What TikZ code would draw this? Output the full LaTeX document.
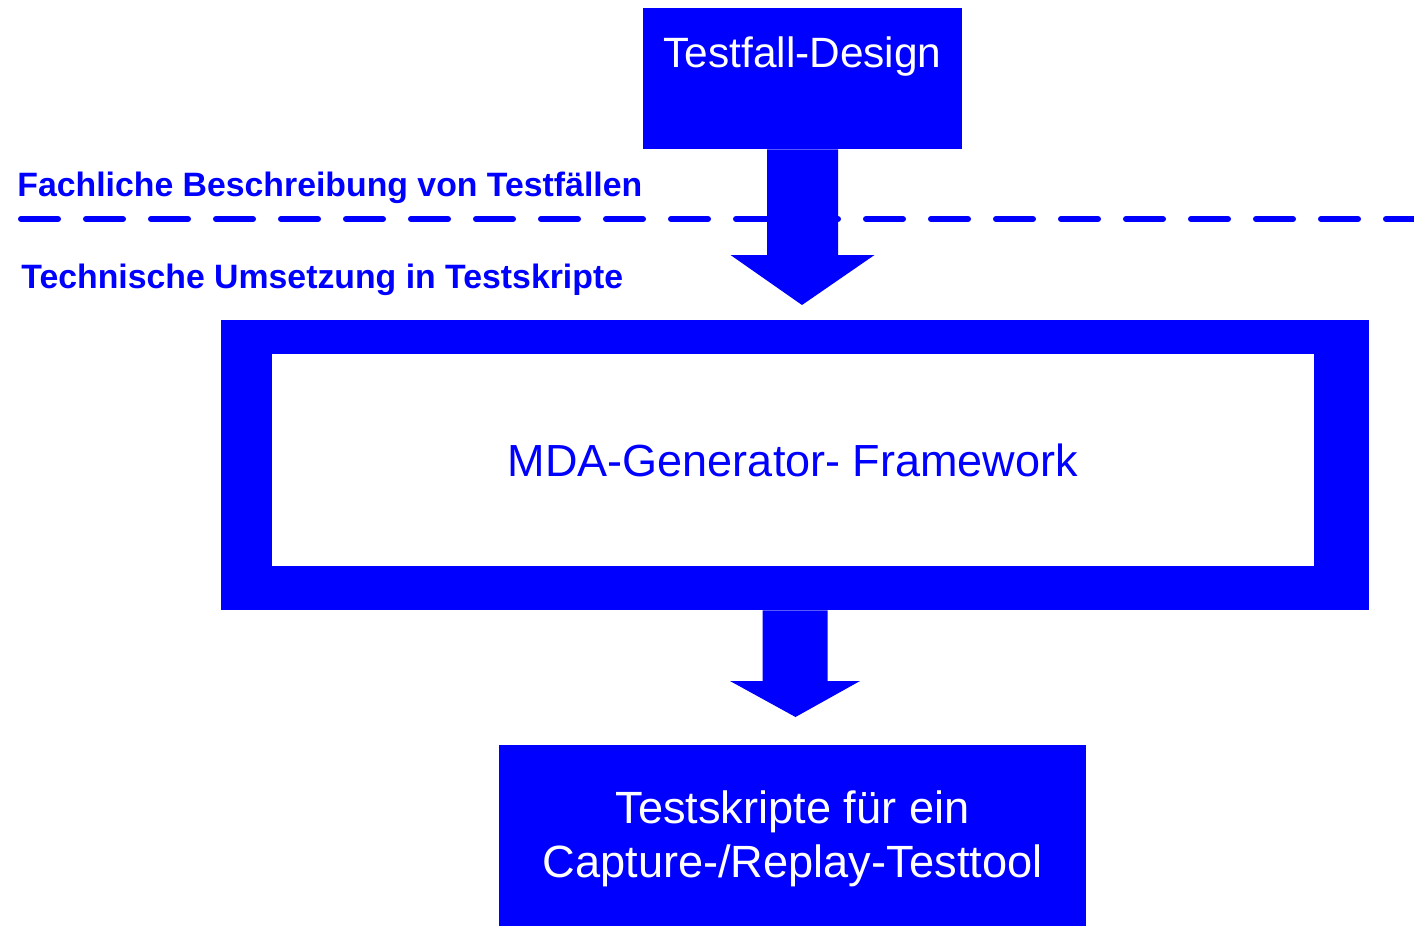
\documentclass[tikz,border=0pt]{standalone}
\usepackage{fontspec}
\setmainfont{Liberation Sans}
\usetikzlibrary{calc}
\definecolor{mdablue}{RGB}{0,0,255}
\tikzset{
    block/.style={fill=mdablue,text=white,inner sep=0pt,align=center,
        font=\fontsize{21.2}{27}\selectfont},
    frame/.style={fill=mdablue,inner sep=0pt},
    inner/.style={fill=white,text=mdablue,inner sep=0pt,
        font=\fontsize{22.5}{27}\selectfont},
    layer/.style={text=mdablue,inner sep=0pt,anchor=base west,
        font=\bfseries\fontsize{16.9}{20}\selectfont},
    separator/.style={mdablue,line width=3pt,line cap=round,
        dash pattern=on 18.5pt off 14pt}
}
% thick arrow: from anchor, tip, half shaft, half head, head length
\newcommand{\blockarrow}[5]{%
    \fill[mdablue] let \p1=(#1), \p2=(#2) in
        (\x1-#3,\y1) -- (\x1-#3,\y2+#5) -- (\x1-#4,\y2+#5) -- (\x2,\y2)
        -- (\x1+#4,\y2+#5) -- (\x1+#3,\y2+#5) -- (\x1+#3,\y1) -- cycle;}

\begin{document}
\begin{tikzpicture}[x=0.5pt,y=-0.5pt]
    \useasboundingbox (0,0) rectangle (1414,926);

    % levels
    \node[layer] (fach) at (17,196) {Fachliche Beschreibung von Testfällen};
    \node[layer] (tech) at (21,288) {Technische Umsetzung in Testskripte};
    \coordinate (sep west) at (21,219);
    \coordinate (sep east) at (1420,219);
    \draw[separator] (sep west) -- (sep east);

    % blocks
    \node[block,minimum width=159.5pt,minimum height=70.5pt,
        text height=15pt,text depth=26pt] (design) at (802.5,78.5) {Testfall-Design};
    \node[frame,minimum width=574pt,minimum height=145pt] (frame) at (795,465) {};
    \node[inner,minimum width=521pt,minimum height=106pt] (mda) at (793,460)
        {MDA-Generator- Framework};
    \node[block,minimum width=293.5pt,minimum height=94pt,
        font=\fontsize{22.6}{27}\selectfont] (scripts) at (792.5,839)
        {Testskripte für ein\\Capture-/Replay-Testtool};

    % arrows
    \coordinate (tip design) at (802,305);
    \coordinate (tip frame) at (795.5,717);
    \blockarrow{design.south}{tip design}{17.75pt}{36pt}{25pt}
    \blockarrow{frame.south}{tip frame}{16.25pt}{32.5pt}{18pt}
\end{tikzpicture}
\end{document}
